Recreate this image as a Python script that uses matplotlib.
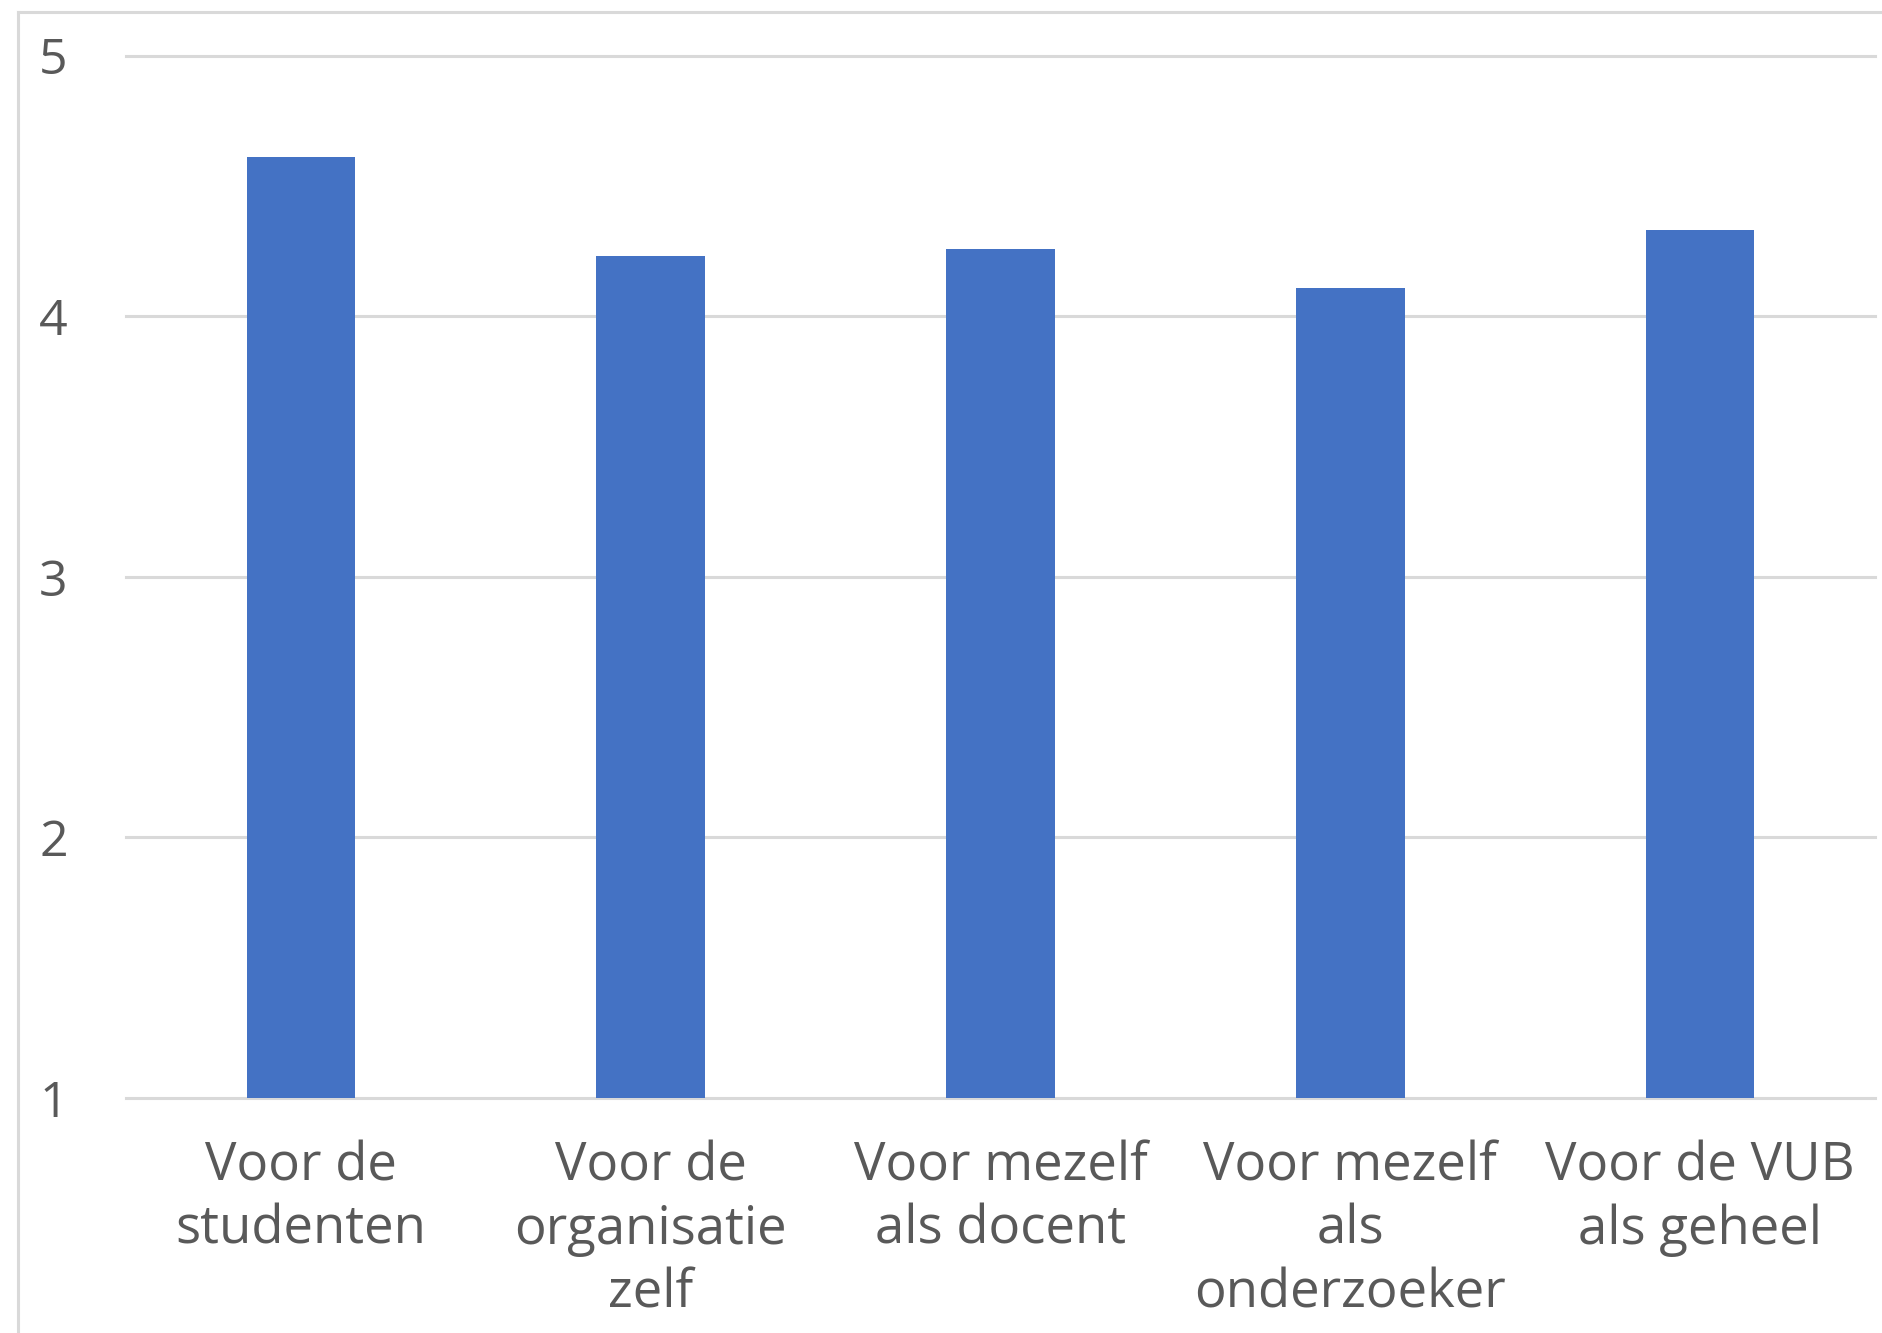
import numpy as np
import matplotlib
matplotlib.use("Agg")
import matplotlib.pyplot as plt
from matplotlib.lines import Line2D

categories = ["Voor de\nstudenten", "Voor de\norganisatie\nzelf", "Voor mezelf\nals docent",
              "Voor mezelf\nals\nonderzoeker", "Voor de VUB\nals geheel"]
values = [4.61, 4.23, 4.26, 4.11, 4.33]
yticks = [1, 2, 3, 4, 5]

BAR = "#4472c4"
GRID = "#d9d9d9"
TXT = "#595959"

plt.rcParams["font.family"] = ["Open Sans", "DejaVu Sans"]

fig = plt.figure(figsize=(18.83, 13.33), dpi=100)
fig.patch.set_facecolor("white")
ax = fig.add_axes([126 / 1883, 1 - 1098 / 1333, (1875 - 126) / 1883, (1098 - 55.7) / 1333])

x = np.arange(len(categories))
for t in yticks:
    ax.axhline(t, color=GRID, lw=2.2, zorder=0, clip_on=False)
ax.bar(x, values, width=0.31, color=BAR, zorder=2)

ax.set_xlim(-0.5, len(categories) - 0.5)
ax.set_ylim(1, 5)
ax.set_yticks(yticks)
ax.set_xticks(x)
ax.set_xticklabels(categories, fontsize=38, color=TXT, linespacing=1.25)
ax.tick_params(axis="y", length=0, pad=42, labelsize=36, labelcolor=TXT)
ax.tick_params(axis="x", length=0, pad=30)
for s in ax.spines.values():
    s.set_visible(False)

# outer chart border (cropped Excel frame)
fig.add_artist(Line2D([18 / 1883, 18 / 1883], [0, 1 - 12 / 1333], color=GRID, lw=2.2))
fig.add_artist(Line2D([18 / 1883, 1], [1 - 12 / 1333, 1 - 12 / 1333], color=GRID, lw=2.2))

fig.savefig("out.png", dpi=100, facecolor="white")
